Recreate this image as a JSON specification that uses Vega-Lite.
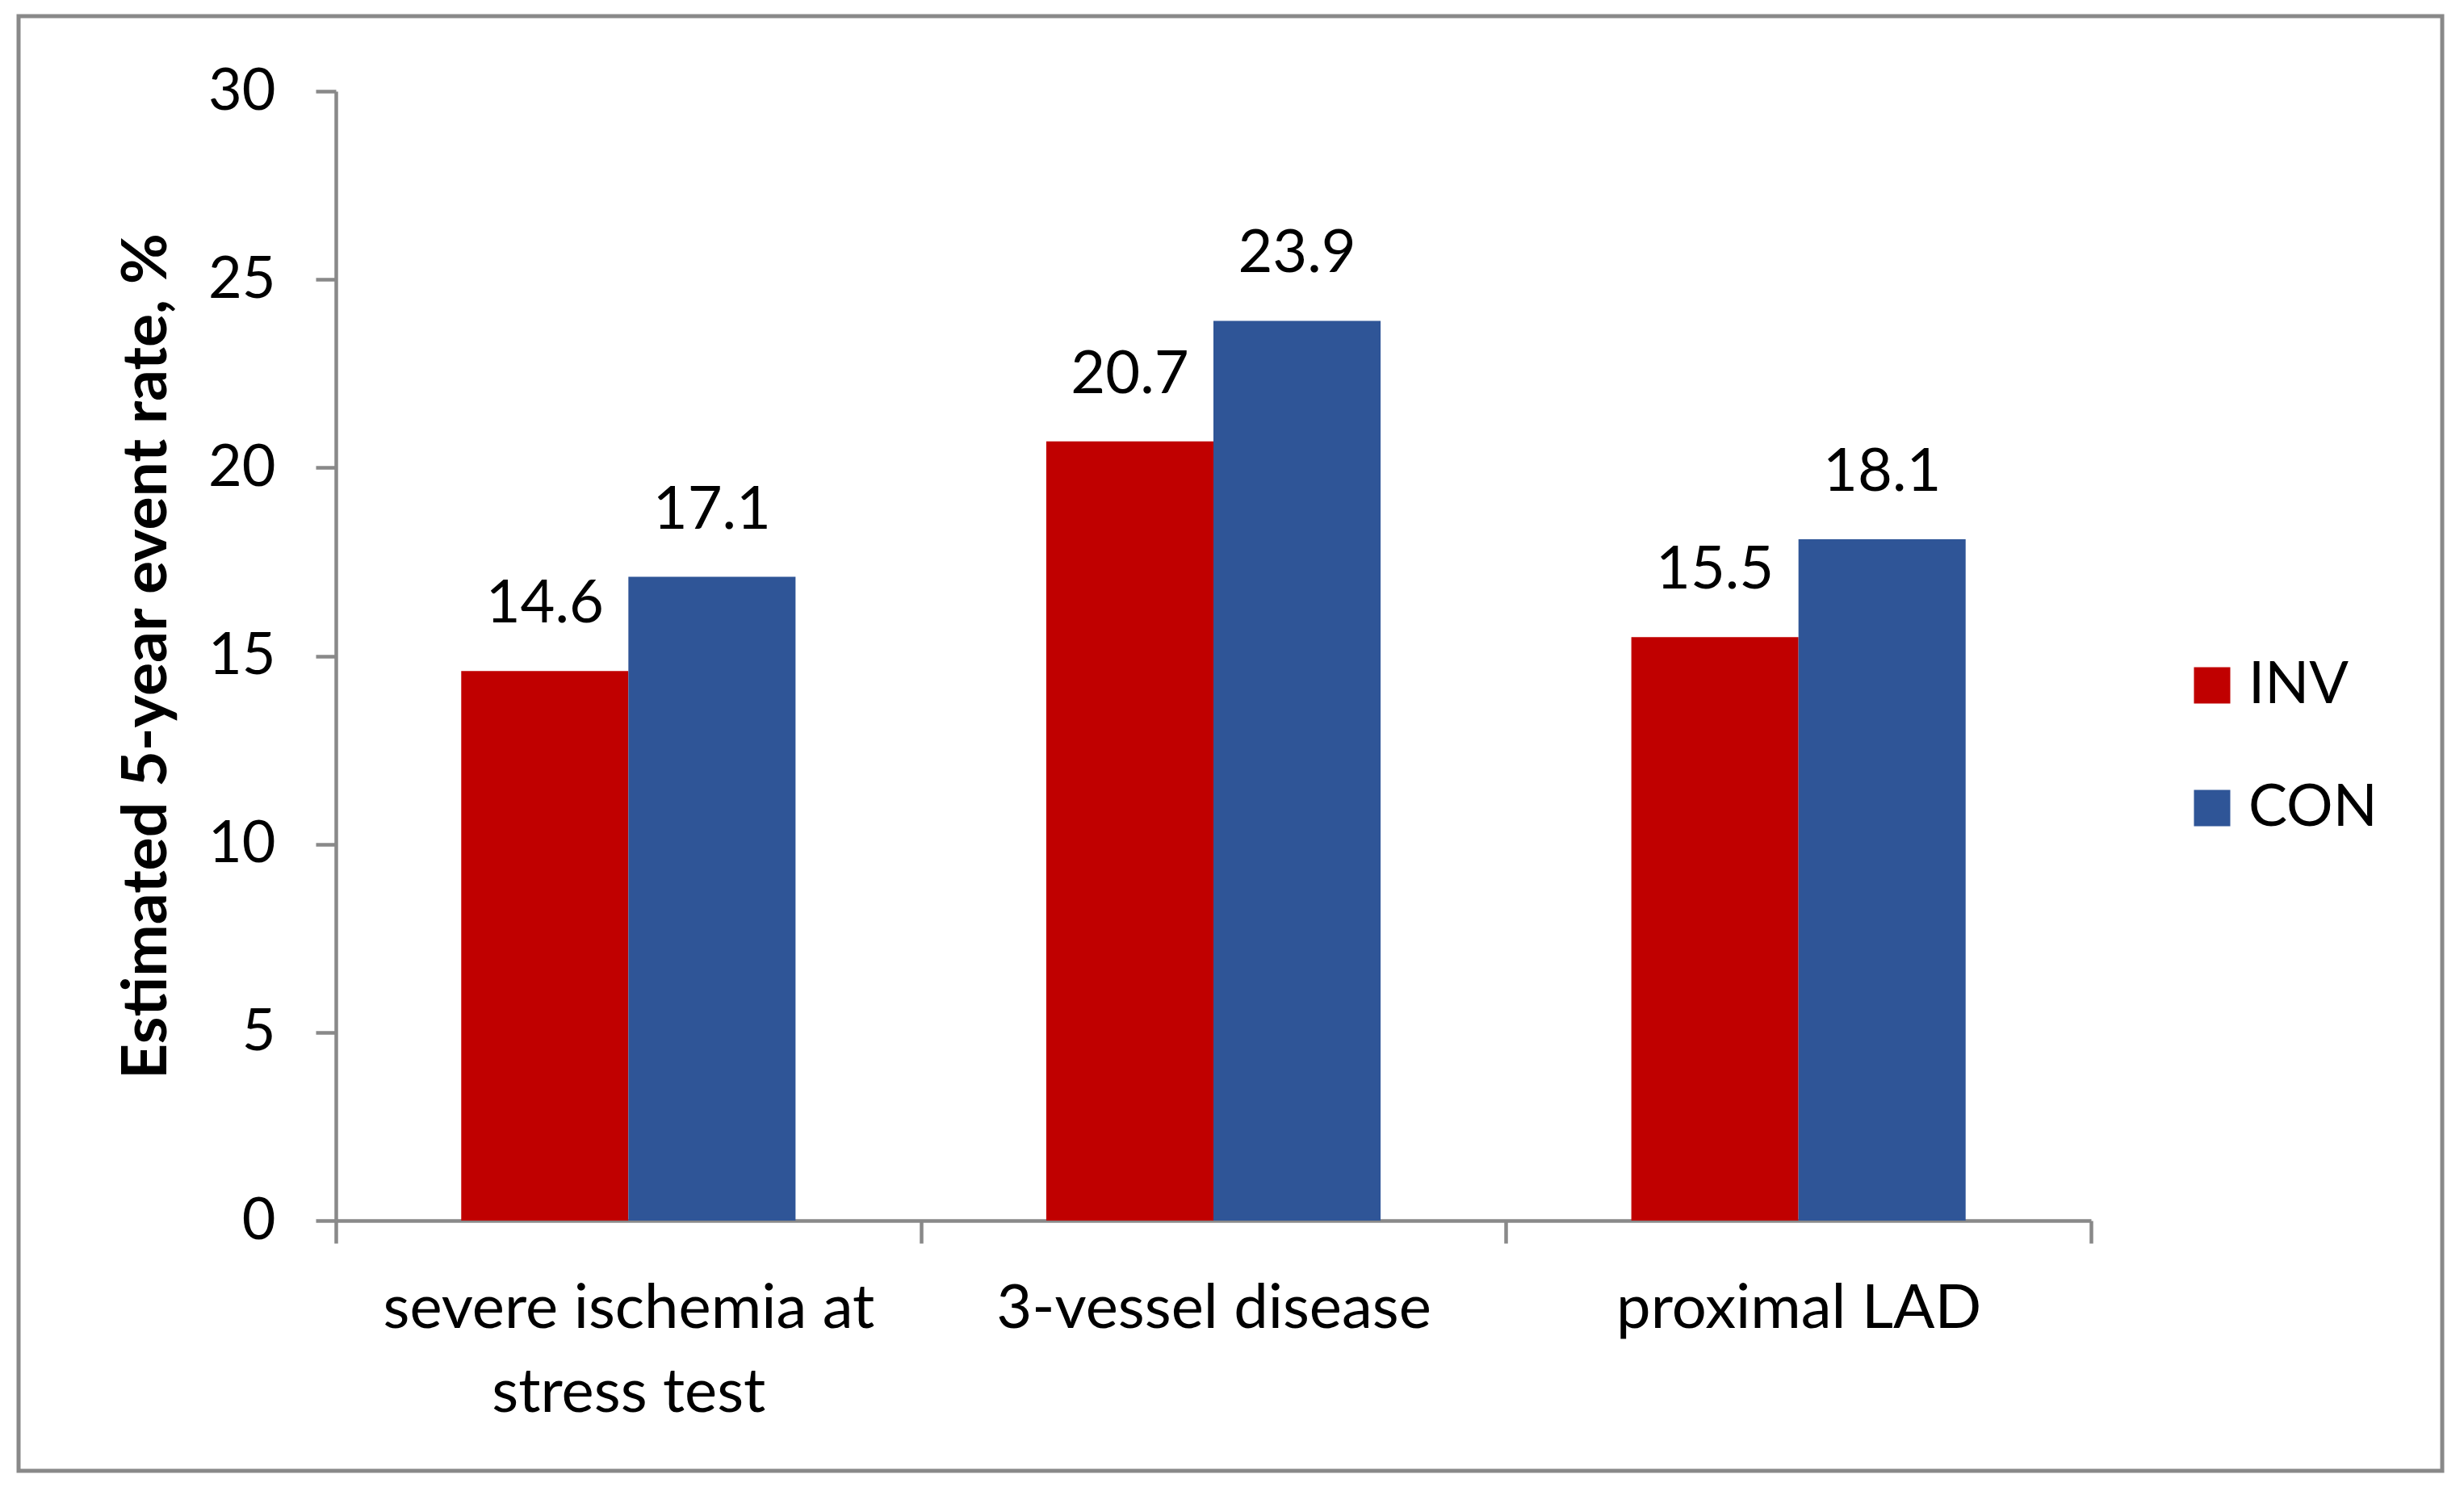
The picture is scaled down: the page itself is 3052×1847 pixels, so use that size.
{
  "$schema": "https://vega.github.io/schema/vega-lite/v6.json",
  "width": 3002,
  "height": 1802,
  "autosize": {"type": "none"},
  "padding": {"left": 23, "top": 20, "right": 27, "bottom": 25},
  "background": "white",
  "config": {
    "font": "Lato",
    "view": {"stroke": "#898989", "strokeWidth": 5, "fill": "white"},
    "axis": {
      "grid": false,
      "domainColor": "#898989",
      "tickColor": "#898989",
      "domainWidth": 4.5,
      "tickWidth": 4.5,
      "labelColor": "black",
      "labelFont": "Lato",
      "labelFontSize": 72,
      "labelLimit": 2000,
      "titleColor": "black"
    }
  },
  "data": {
    "values": [
      {"category": "severe ischemia at stress test", "group": "INV", "value": 14.6},
      {"category": "severe ischemia at stress test", "group": "CON", "value": 17.1},
      {"category": "3-vessel disease", "group": "INV", "value": 20.7},
      {"category": "3-vessel disease", "group": "CON", "value": 23.9},
      {"category": "proximal LAD", "group": "INV", "value": 15.5},
      {"category": "proximal LAD", "group": "CON", "value": 18.1}
    ]
  },
  "encoding": {
    "x": {
      "field": "category",
      "type": "nominal",
      "sort": ["severe ischemia at stress test", "3-vessel disease", "proximal LAD"],
      "scale": {"range": [393, 2567], "paddingInner": 0, "paddingOuter": 0},
      "axis": {
        "orient": "bottom",
        "offset": -310,
        "title": null,
        "labelAngle": 0,
        "tickBand": "extent",
        "tickSize": 28,
        "labelPadding": 44,
        "labelFontSize": 76,
        "labelLineHeight": 104,
        "labelExpr": "datum.label == 'severe ischemia at stress test' ? ['severe ischemia at', 'stress test'] : datum.label"
      }
    },
    "xOffset": {
      "field": "group",
      "type": "nominal",
      "sort": ["INV", "CON"],
      "scale": {"paddingOuter": 0.75, "paddingInner": 0}
    },
    "y": {
      "field": "value",
      "type": "quantitative",
      "scale": {"domain": [0, 30], "range": [1492, 93], "nice": false, "zero": true},
      "axis": {
        "orient": "left",
        "offset": -393,
        "values": [0, 5, 10, 15, 20, 25, 30],
        "tickSize": 25,
        "labelPadding": 50,
        "title": "Estimated 5-year event rate, %",
        "titleFontSize": 77,
        "titleFontWeight": "bold",
        "titleFont": "Lato",
        "titlePadding": 36
      }
    }
  },
  "layer": [
    {
      "mark": {"type": "bar"},
      "encoding": {
        "color": {
          "field": "group",
          "type": "nominal",
          "scale": {"domain": ["INV", "CON"], "range": ["#C00000", "#2F5597"]},
          "legend": {
            "orient": "none",
            "legendX": 2681,
            "legendY": 793,
            "title": null,
            "padding": 0,
            "symbolType": "square",
            "symbolSize": 2025,
            "symbolStrokeWidth": 0,
            "labelFontSize": 72,
            "labelFont": "Lato",
            "labelColor": "black",
            "labelOffset": 9,
            "rowPadding": 80
          }
        }
      }
    },
    {
      "mark": {"type": "text", "dy": -60, "baseline": "alphabetic", "fontSize": 74, "font": "Lato", "color": "black"},
      "encoding": {
        "text": {"field": "value", "type": "quantitative", "format": ".1f"}
      }
    }
  ]
}
